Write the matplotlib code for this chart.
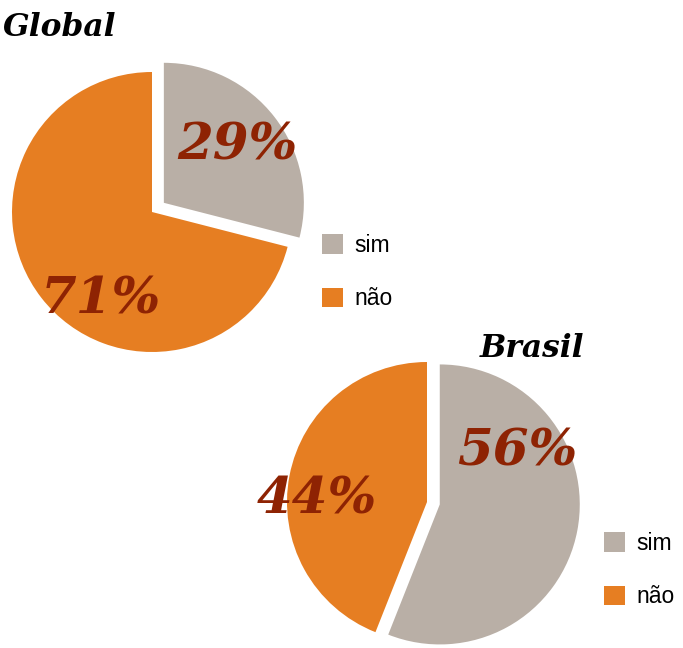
import matplotlib.pyplot as plt

# dados
categorias = ['sim', 'não']
global_vals = [29, 71]
brasil_vals = [56, 44]
titulos = ['Global', 'Brasil']

cores = ['#B9AFA6', '#E67E22']
cor_pct = '#8E2303'

fig = plt.figure(figsize=(6.83, 6.48), dpi=100)
ax = fig.add_axes([0, 0, 1, 1])

H = 648
R = 140

# pizza Global
w1, _ = ax.pie(global_vals, colors=cores, startangle=90, counterclock=False,
               radius=R, center=(152, H - 212), explode=[15, 0],
               wedgeprops=dict(linewidth=0))
# pizza Brasil
w2, _ = ax.pie(brasil_vals, colors=cores, startangle=90, counterclock=False,
               radius=R, center=(427, H - 502), explode=[13, 0],
               wedgeprops=dict(linewidth=0))

ax.set_xlim(0, 683)
ax.set_ylim(0, H)
ax.axis('off')

fonte_pct = dict(family='DejaVu Serif', weight='bold', style='italic',
                 fontsize=37, color=cor_pct, ha='center', va='baseline')
# posicoes dos rotulos
pos_global = [(237, 160), (101, 313)]
pos_brasil = [(517, 465), (317, 513)]
for v, (x, y) in zip(global_vals, pos_global):
    ax.text(x, H - y, f'{v}%', **fonte_pct)
for v, (x, y) in zip(brasil_vals, pos_brasil):
    ax.text(x, H - y, f'{v}%', **fonte_pct)

fonte_tit = dict(family='DejaVu Serif', weight='bold', style='italic',
                 fontsize=22.5, color='black', va='baseline')
ax.text(3, H - 36, titulos[0], ha='left', **fonte_tit)
ax.text(584, H - 357, titulos[1], ha='right', **fonte_tit)

leg_kw = dict(frameon=False, loc='upper left', bbox_transform=ax.transData,
              prop=dict(family='Liberation Sans', size=16.5),
              handlelength=0.92, handleheight=0.92, handletextpad=0.5,
              labelspacing=1.32, borderpad=0, borderaxespad=0)
leg1 = ax.legend(w1, categorias, bbox_to_anchor=(322, H - 234), **leg_kw)
ax.add_artist(leg1)
ax.legend(w2, categorias, bbox_to_anchor=(604, H - 532), **leg_kw)

fig.savefig('out.png', dpi=100)
